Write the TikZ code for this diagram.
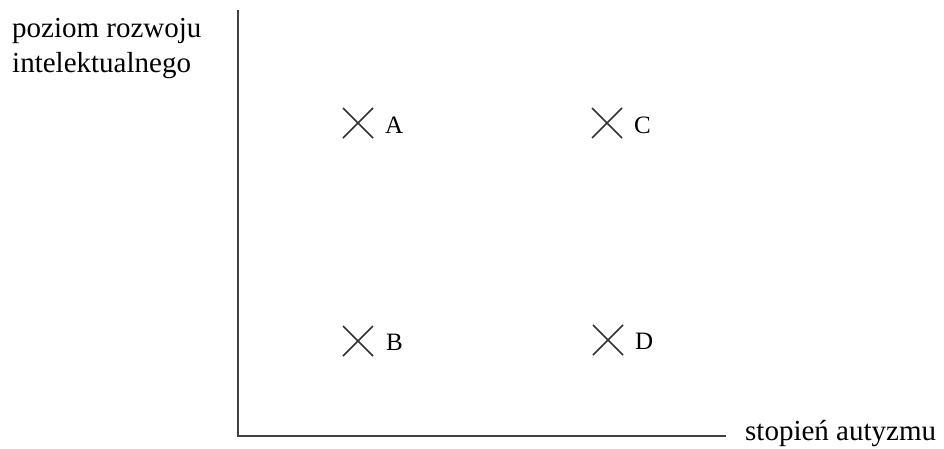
\documentclass[tikz,border=0pt]{standalone}
\usepackage{fontspec}
\setmainfont{Liberation Serif}
\begin{document}
\begin{tikzpicture}[x=1pt,y=-1pt,
  axis/.style={draw=black!75,line width=1.6pt},
  crossmark/.style={draw=black!80,line width=1.6pt},
  lab/.style={anchor=base west,inner sep=0pt,font=\fontsize{29}{35}\selectfont},
  pt/.style={anchor=base west,inner sep=0pt,font=\fontsize{25}{30}\selectfont}]
\useasboundingbox (0,0) rectangle (944,448);
\coordinate (top) at (238,10);
\coordinate (origin) at (238,436);
\coordinate (right) at (726,436);
\draw[axis] (top) -- (origin) -- (right);
\node[lab] (ylab1) at (12,37) {poziom rozwoju};
\node[lab] (ylab2) at (12,72) {intelektualnego};
\node[lab] (xlab) at (745,440) {stopień autyzmu};
% crosses
\foreach \n/\cx/\cy in {a/358/123,c/607/123,b/358/341,d/608/340}{
  \coordinate (\n) at (\cx,\cy);
  \draw[crossmark] ([shift={(-15,-15)}]\n) -- ([shift={(15,15)}]\n)
                   ([shift={(-15,15)}]\n) -- ([shift={(15,-15)}]\n);
}
\node[pt] (la) at (385,133) {A};
\node[pt] (lb) at (386,350) {B};
\node[pt] (lc) at (634,133) {C};
\node[pt] (ld) at (635,349) {D};
\end{tikzpicture}
\end{document}
